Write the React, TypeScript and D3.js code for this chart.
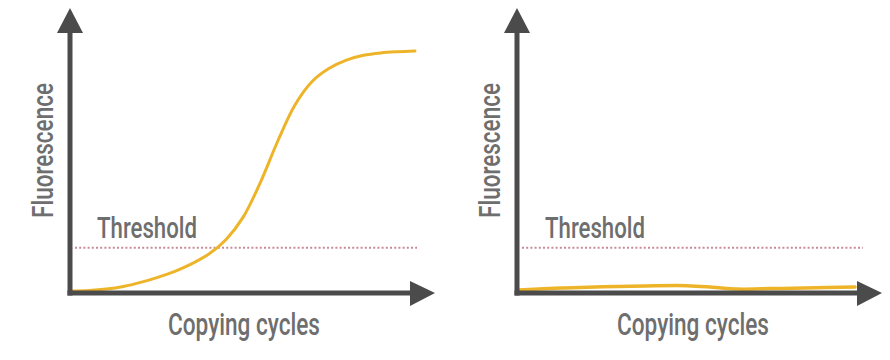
import React from "react";
import * as d3 from "d3";

// Panel 1: successful amplification (sigmoid)
const cyclesA = [0, 2, 4, 6, 8, 10, 12, 14, 16, 18, 20, 22, 24, 26, 28, 30, 32, 34, 36, 38, 40];
const fluorA = [0, 0.2, 0.8, 1.9, 3.6, 5.7, 8.2, 11.4, 15.5, 21.6, 31, 45.5, 62.5, 77.5, 87.3, 92.8, 96.2, 98.2, 99.2, 99.7, 100];

// Panel 2: no amplification (flat)
const cyclesB = [0, 5, 10, 15, 20, 23, 26, 30, 34, 40];
const fluorB = [0.4, 1.2, 1.8, 2.1, 2.2, 1.6, 0.8, 1.0, 1.3, 1.7];

const thresholdValue = 18;
const xLabel = "Copying cycles";
const yLabel = "Fluorescence";
const thresholdLabel = "Threshold";

const AXIS = "#4b4b4b";
const CURVE = "#eeb429";
const THRESH = "#c98a98";
const TEXT = "#6e6e6e";
const FONT = "Roboto, 'Noto Sans', sans-serif";

type PanelProps = {
  ox: number;
  xs: number[];
  ys: number[];
  curveWidth: number;
  xEnd: number;
  thEnd: number;
  labelOffsets: { fl: number; th: number; cc: number };
};

function Panel({ ox, xs, ys, curveWidth, xEnd, thEnd, labelOffsets }: PanelProps) {
  const baseY = 293;
  const x = d3.scaleLinear().domain([0, 40]).range([ox + 2, xEnd]);
  const y = d3.scaleLinear().domain([0, 100]).range([291, 51]);
  const line = d3
    .line<number>()
    .x((_, i) => x(xs[i]))
    .y((d) => y(d))
    .curve(d3.curveCatmullRom.alpha(0.5));
  const upArrow = `M${ox},8 L${ox + 13},33 L${ox - 13},33 Z`;
  const tipX = ox + 365;
  const rightArrow = `M${tipX},${baseY} L${tipX - 25},${baseY - 12} L${tipX - 25},${baseY + 13} Z`;
  const ty = y(thresholdValue);
  return (
    <g>
      <line x1={ox + 5} x2={thEnd} y1={ty} y2={ty} stroke={THRESH} strokeWidth={2} strokeDasharray="2,2.2" />
      <path d={line(ys) || ""} fill="none" stroke={CURVE} strokeWidth={curveWidth} strokeLinecap="round" />
      <line x1={ox} x2={ox} y1={30} y2={baseY + 2.5} stroke={AXIS} strokeWidth={5} />
      <line x1={ox - 2.5} x2={tipX - 22} y1={baseY} y2={baseY} stroke={AXIS} strokeWidth={5} />
      <path d={upArrow} fill={AXIS} />
      <path d={rightArrow} fill={AXIS} />
      <text
        x={ox + labelOffsets.th}
        y={238}
        fontFamily={FONT}
        fontSize={30}
        fontWeight={500}
        fill={TEXT}
        textLength={100}
        lengthAdjust="spacingAndGlyphs"
      >
        {thresholdLabel}
      </text>
      <text
        transform={`translate(${ox + labelOffsets.fl},218) rotate(-90)`}
        fontFamily={FONT}
        fontSize={29}
        fontWeight={500}
        fill={TEXT}
        textLength={135}
        lengthAdjust="spacingAndGlyphs"
      >
        {yLabel}
      </text>
      <text
        x={ox + labelOffsets.cc}
        y={335}
        fontFamily={FONT}
        fontSize={31}
        fontWeight={500}
        fill={TEXT}
        textLength={152}
        lengthAdjust="spacingAndGlyphs"
      >
        {xLabel}
      </text>
    </g>
  );
}

export default function App() {
  return (
    <svg
      width={890}
      height={360}
      style={{ position: "absolute", left: 0, top: 0, background: "#fff" }}
    >
      <Panel
        ox={70}
        xs={cyclesA}
        ys={fluorA}
        curveWidth={3}
        xEnd={415}
        thEnd={417}
        labelOffsets={{ fl: -17, th: 27, cc: 98 }}
      />
      <Panel
        ox={517}
        xs={cyclesB}
        ys={fluorB}
        curveWidth={3.5}
        xEnd={855}
        thEnd={863}
        labelOffsets={{ fl: -17, th: 28, cc: 100 }}
      />
    </svg>
  );
}
